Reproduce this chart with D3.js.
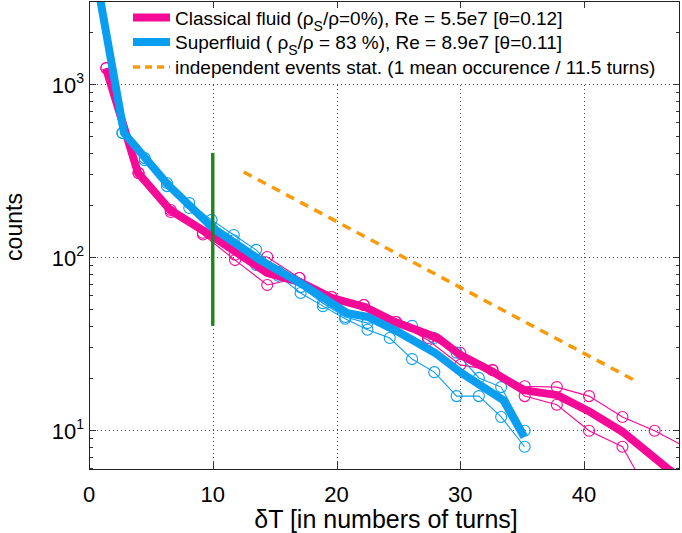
<!DOCTYPE html>
<html lang="en">
<head>
<meta charset="UTF-8">
<title>Waiting time statistics</title>
<script src="https://d3js.org/d3.v7.min.js"></script>
<style>
  body { margin: 0; background: #fff; }
  text { font-family: "Liberation Sans", Arial, Helvetica, sans-serif; fill: #000; }
</style>
</head>
<body>
<svg id="chart" width="682" height="533"></svg>
<script>
// tick labels
const xTicks = [0, 10, 20, 30, 40];
const yTicks = [10, 100, 1000];

// classical fluid, thin lines with circles
const pinkThinT = [1.4, 4.0, 6.6, 9.2, 11.8, 14.4, 17.0, 19.6, 22.2, 24.8, 27.4, 30.0, 32.6, 35.2, 37.8, 40.4, 43.1, 45.7, 48.3];
const pinkThinA = [1236, 306, 187, 138, 103, 100, 75.7, 58.7, 52.8, 42.1, 34, 27.9, 22.2, 17.9, 17.7, 15.7, 11.9, 9.9, 7.9];
const pinkThinB = [1236, 306, 182, 135, 96, 68.9, 75.7, 58.7, 52.8, 42.1, 33, 23.8, 22.2, 15.7, 14.0, 9.9, 8.0, 3.7, 2.0];

// superfluid, thin lines with circles
const blueThinT = [0.85, 2.7, 4.5, 6.3, 8.1, 9.9, 11.7, 13.5, 15.3, 17.1, 18.9, 20.7, 22.5, 24.3, 26.1, 27.9, 29.7, 31.5, 33.3, 35.2];
const blueThinA = [3250, 521, 373, 268, 205, 164, 134, 110, 82, 67, 54, 45, 41.5, 42, 40, 34, 28, 20, 17.7, 9.9];
const blueThinB = [3250, 521, 363, 257, 192, 147, 125, 90, 78, 62, 52, 44, 38, 34, 25.7, 21.6, 15.7, 15.7, 11.9, 8.0];

// thick (mean) lines
const pinkThickT = [1.37, 3.96, 6.55, 10.02, 14.39, 17.06, 19.64, 22.31, 24.74, 28.21, 29.99, 32.66, 35.09, 37.83, 40.5, 43.17, 46.73, 47.9];
const pinkThickV = [1236, 306, 187, 131, 80.9, 71.6, 57.9, 51.4, 42.1, 34.0, 27.2, 21.6, 17.0, 15.9, 12.7, 9.7, 6.0, 5.2];
const blueThickT = [0.85, 2.83, 6.39, 10.02, 13.82, 17.06, 20.86, 22.55, 25.14, 27.97, 29.99, 33.47, 35.17];
const blueThickV = [3250, 521, 261, 147, 96, 70.8, 47.4, 45, 36.4, 27.9, 21.6, 14.9, 9.1];

// independent events statistics (exponential, 11.5 turns)
const eventsT = [12.5, 44.3];
const eventsV = [310, 19];

// vertical marker at dT = 10
const markT = [10, 10];
const markV = [40, 400];

const legendLabels = [
  ["Classical fluid (ρ", "S", "/ρ=0%), Re = 5.5e7 [θ=0.12]"],
  ["Superfluid ( ρ", "S", "/ρ = 83 %), Re = 8.9e7 [θ=0.11]"],
  ["independent events stat. (1 mean occurence / 11.5 turns)"]
];

const pink = "#f50a98", blue = "#0a9ef0", green = "#1b861b", orange = "#fb9a08";

const svg = d3.select("#chart");
const pl = 89, pr = 680, pt = 1, pb = 469;

const x = d3.scaleLinear().domain([0, 47.75]).range([pl, pr]);
const y = d3.scaleLog().domain([5.95, 3020]).range([pb, pt]);

svg.append("defs").append("clipPath").attr("id", "clip")
  .append("rect").attr("x", pl).attr("y", pt).attr("width", pr - pl).attr("height", pb - pt);

// grid
const grid = svg.append("g").attr("stroke", "#444").attr("stroke-width", 1).attr("stroke-dasharray", "1,3");
grid.selectAll(".gx").data(xTicks.filter(d => d > 0)).enter().append("line")
  .attr("x1", d => Math.round(x(d)) + 0.5).attr("x2", d => Math.round(x(d)) + 0.5)
  .attr("y1", pt).attr("y2", pb);
grid.selectAll(".gy").data(yTicks).enter().append("line")
  .attr("y1", d => Math.round(y(d)) + 0.5).attr("y2", d => Math.round(y(d)) + 0.5)
  .attr("x1", pl).attr("x2", pr);

// data
const plot = svg.append("g").attr("clip-path", "url(#clip)");
const line = d3.line().x(d => x(d[0])).y(d => y(d[1]));
const zip = (t, v) => t.map((d, i) => [d, v[i]]);

function thin(t, v, color) {
  const pts = zip(t, v);
  plot.append("path").attr("d", line(pts)).attr("fill", "none")
    .attr("stroke", color).attr("stroke-width", 1.1);
  plot.append("g").selectAll("circle").data(pts).enter().append("circle")
    .attr("cx", d => x(d[0])).attr("cy", d => y(d[1])).attr("r", 5.5)
    .attr("fill", "none").attr("stroke", color).attr("stroke-width", 1.1);
}
thin(pinkThinT, pinkThinA, pink);
thin(pinkThinT, pinkThinB, pink);
thin(blueThinT, blueThinA, blue);
thin(blueThinT, blueThinB, blue);

plot.append("path").attr("d", line(zip(pinkThickT, pinkThickV))).attr("fill", "none")
  .attr("stroke", pink).attr("stroke-width", 8).attr("stroke-linejoin", "round");
plot.append("path").attr("d", line(zip(blueThickT, blueThickV))).attr("fill", "none")
  .attr("stroke", blue).attr("stroke-width", 8).attr("stroke-linejoin", "round");

plot.append("path").attr("d", line(zip(eventsT, eventsV))).attr("fill", "none")
  .attr("stroke", orange).attr("stroke-width", 3.5).attr("stroke-dasharray", "9,7");

plot.append("path").attr("d", line(zip(markT, markV))).attr("fill", "none")
  .attr("stroke", green).attr("stroke-width", 3.4);

// legend
const lg = svg.append("g");
lg.append("rect").attr("x", 128).attr("y", 3).attr("width", 540).attr("height", 79).attr("fill", "#fff");
const rows = [17.5, 42, 67];
const styles = [
  {c: pink, w: 8, dash: null},
  {c: blue, w: 8, dash: null},
  {c: orange, w: 3.5, dash: "7,5"}
];
legendLabels.forEach((lab, i) => {
  lg.append("line").attr("x1", 133).attr("x2", 170).attr("y1", rows[i]).attr("y2", rows[i])
    .attr("stroke", styles[i].c).attr("stroke-width", styles[i].w)
    .attr("stroke-dasharray", styles[i].dash);
  const t = lg.append("text").attr("x", 175).attr("y", rows[i] + 7).style("font-size", "19px");
  t.append("tspan").text(lab[0]);
  if (lab.length > 1) {
    t.append("tspan").attr("dy", 6).style("font-size", "14px").text(lab[1]);
    t.append("tspan").attr("dy", -6).text(lab[2]);
  }
});

// ticks
const minor = [];
[1, 10, 100, 1000].forEach(p => { for (let k = 2; k <= 9; k++) { const v = p * k; if (v > 5.95 && v < 3020) minor.push(v); } });
const ticks = svg.append("g").attr("stroke", "#333").attr("stroke-width", 1);
minor.forEach(v => {
  const yy = Math.round(y(v)) + 0.5;
  ticks.append("line").attr("x1", pl).attr("x2", pl + 4).attr("y1", yy).attr("y2", yy);
  ticks.append("line").attr("x1", pr).attr("x2", pr - 4).attr("y1", yy).attr("y2", yy);
});
yTicks.forEach(v => {
  const yy = Math.round(y(v)) + 0.5;
  ticks.append("line").attr("x1", pl).attr("x2", pl + 7).attr("y1", yy).attr("y2", yy);
  ticks.append("line").attr("x1", pr).attr("x2", pr - 7).attr("y1", yy).attr("y2", yy);
});
xTicks.filter(d => d > 0).forEach(v => {
  const xx = Math.round(x(v)) + 0.5;
  ticks.append("line").attr("x1", xx).attr("x2", xx).attr("y1", pb).attr("y2", pb - 7);
  ticks.append("line").attr("x1", xx).attr("x2", xx).attr("y1", pt).attr("y2", pt + 7);
});

// frame
svg.append("rect").attr("x", pl + 0.5).attr("y", pt + 0.5)
  .attr("width", pr - pl - 1).attr("height", pb - pt)
  .attr("fill", "none").attr("stroke", "#222").attr("stroke-width", 1);

// tick labels
svg.append("g").selectAll("text").data(xTicks).enter().append("text")
  .attr("x", d => x(d)).attr("y", 502).attr("text-anchor", "middle")
  .style("font-size", "22px").text(d => d);
const yl = svg.append("g").selectAll("text").data(yTicks).enter().append("text")
  .attr("x", 84).attr("y", d => y(d) + 9).attr("text-anchor", "end").style("font-size", "22px");
yl.append("tspan").text("10");
yl.append("tspan").attr("dy", -10).style("font-size", "14px").text(d => Math.round(Math.log10(d)));

// axis titles
svg.append("text").attr("x", 386).attr("y", 528).attr("text-anchor", "middle")
  .style("font-size", "25px").text("δT [in numbers of turns]");
svg.append("text").attr("transform", "translate(22,227) rotate(-90)").attr("text-anchor", "middle")
  .style("font-size", "23px").text("counts");
</script>
</body>
</html>
